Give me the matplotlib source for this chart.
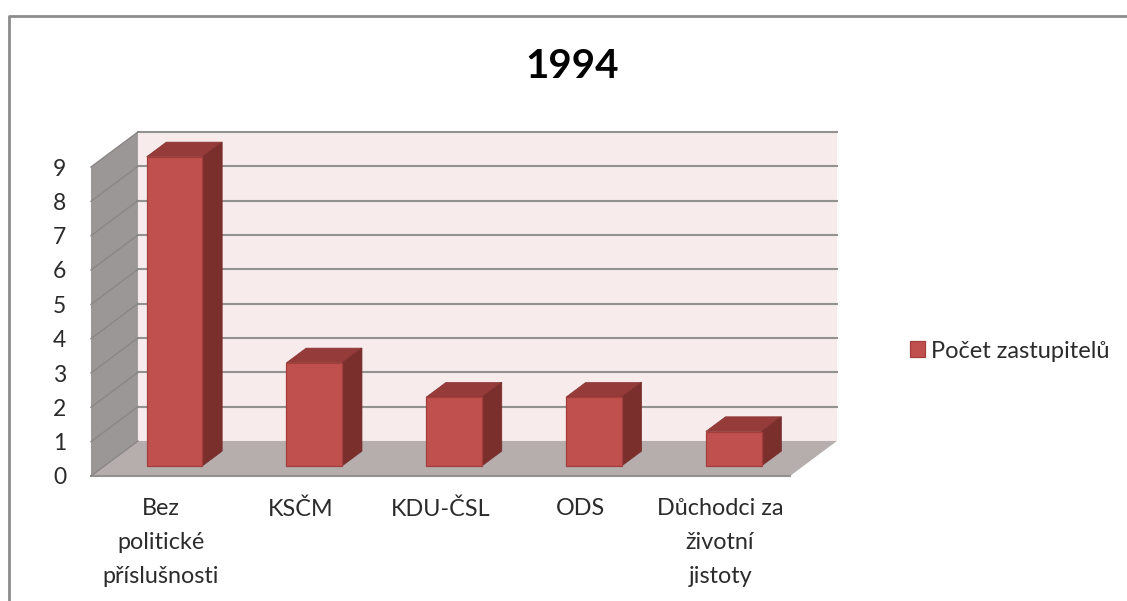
# -*- coding: utf-8 -*-
import matplotlib
matplotlib.use("Agg")
import matplotlib.pyplot as plt
from matplotlib.lines import Line2D
from matplotlib.patches import Polygon, Patch

plt.rcParams["font.family"] = ["Lato", "DejaVu Sans"]

# Data
categories = ["Bez\npolitické\npříslušnosti", "KSČM", "KDU-ČSL", "ODS", "Důchodci za\nživotní\njistoty"]
values = [9, 3, 2, 2, 1]
y_ticks = list(range(0, 10))
series_name = "Počet zastupitelů"
title = "1994"

W, H = 1127, 601
fig = plt.figure(figsize=(W / 100, H / 100), dpi=100, facecolor="white")

# Front plane of the fake 3D box, in pixels
left, right, bottom, top = 91, 790, 476, 167
ax = fig.add_axes([left / W, 1 - bottom / H, (right - left) / W, (bottom - top) / H])
ax.set_xlim(-0.5, 4.5)
ax.set_ylim(0, 9)
ax.patch.set_visible(False)
for s in ax.spines.values():
    s.set_visible(False)

# Depth of the box in data units
DX = 47 / 140
DY = 35 / 34.3
x0, x1 = -0.5, 4.5


def pr(x, v, d):
    return (x + d * DX, v + d * DY)


def poly(points, color, edge="none", lw=0.0, z=1):
    ax.add_patch(Polygon(points, closed=True, facecolor=color, edgecolor=edge, lw=lw,
                         clip_on=False, zorder=z))


# Walls and floor
poly([pr(x0, 0, 1), pr(x1, 0, 1), pr(x1, 9, 1), pr(x0, 9, 1)], "#f7ebeb")
poly([pr(x0, 0, 0), pr(x0, 0, 1), pr(x0, 9, 1), pr(x0, 9, 0)], "#9b9796")
poly([pr(x0, 0, 0), pr(x1, 0, 0), pr(x1, 0, 1), pr(x0, 0, 1)], "#b6adad")

# Gridlines
for t in y_ticks[1:]:
    ax.plot(*zip(pr(x0, t, 1), pr(x1, t, 1)), color="#949191", lw=1.5, clip_on=False, zorder=2)
    ax.plot(*zip(pr(x0, t, 0), pr(x0, t, 1)), color="#8a8686", lw=1.0, clip_on=False, zorder=2)
ax.plot([x0, x1], [0, 0], color="#949191", lw=1.5, clip_on=False, zorder=2)
ax.plot(*zip(pr(x0, 0, 0), pr(x0, 0, 1)), color="#8a8686", lw=1.0, clip_on=False, zorder=2)

# Bars
bar_w = 0.4
d0, d1 = 0.29, 0.71
for i, v in enumerate(values):
    a, b = i - bar_w / 2, i + bar_w / 2
    poly([pr(a, 0, d0), pr(b, 0, d0), pr(b, v, d0), pr(a, v, d0)], "#c0504d", "#a23f3c", 0.9, 4)
    poly([pr(a, v, d0), pr(b, v, d0), pr(b, v, d1), pr(a, v, d1)], "#953b39", "#8a3533", 0.5, 3)
    poly([pr(b, 0, d0), pr(b, 0, d1), pr(b, v, d1), pr(b, v, d0)], "#7b2f2d", "#752c2a", 0.5, 3)

# Axis labels
ax.set_xticks(range(len(categories)))
ax.set_xticklabels(categories, fontsize=16.8, color="#2b2b2b", linespacing=1.75, va="top")
ax.set_yticks(y_ticks)
ax.set_yticklabels([str(t) for t in y_ticks], fontsize=16.5, color="#2b2b2b")
ax.tick_params(axis="x", length=0, pad=16)
ax.tick_params(axis="y", length=0, pad=18)

fig.text(572 / W, 1 - 67 / H, title, fontsize=29, fontweight="bold", color="black",
         ha="center", va="center")

# Legend
handle = Patch(facecolor="#c0504d", edgecolor="#a23f3c", lw=0.9)
fig.legend([handle], [series_name], loc="center left", bbox_to_anchor=(889 / W, 1 - 351 / H),
           frameon=False, fontsize=17, handlelength=0.64, handleheight=0.64,
           handletextpad=0.25, labelcolor="#2b2b2b")

# Outer frame: only the left and top edges are in view
fig.add_artist(Line2D([8.5 / W, 8.5 / W, 1], [0, 1 - 15.5 / H, 1 - 15.5 / H],
                      transform=fig.transFigure, color="#8c8c8c", lw=2.0))

fig.savefig("out.png", dpi=100)
